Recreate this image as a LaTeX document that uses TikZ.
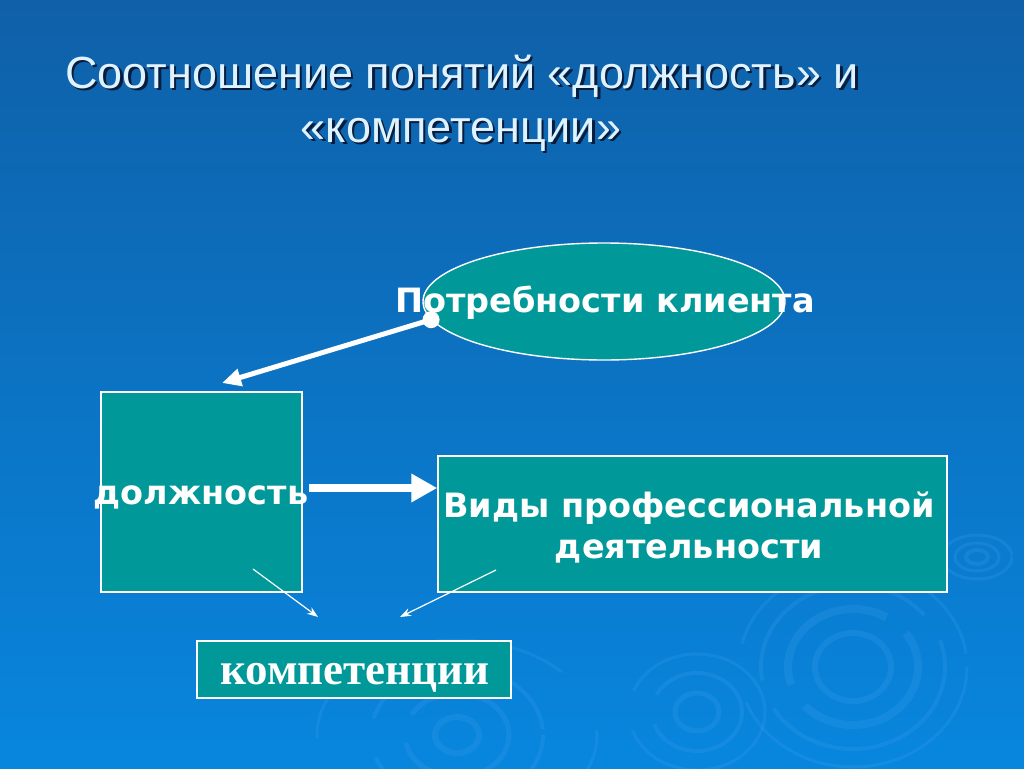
\documentclass[tikz,border=0pt]{standalone}
\usepackage{fontspec}
\setmainfont{Liberation Sans}
\newfontfamily\headfont{Liberation Sans}
\newfontfamily\boxfont{DejaVu Sans}
\newfontfamily\kompfont{Liberation Serif}
\usetikzlibrary{calc,arrows.meta,shapes.geometric}
\definecolor{bgtop}{RGB}{15,96,168}
\definecolor{bgbottom}{RGB}{8,134,222}
\definecolor{boxteal}{RGB}{0,152,152}
\definecolor{headcyan}{RGB}{222,243,255}
\definecolor{headshadow}{RGB}{8,28,60}
\definecolor{ripple}{RGB}{70,165,240}
\tikzset{
	tealbox/.style={draw=white, line width=1.4pt, fill=boxteal, inner sep=0pt},
	boxtext/.style={text=white, font=\boxfont\bfseries\fontsize{33.5}{41}\selectfont, align=center, inner sep=0pt},
	headtext/.style={font=\headfont\fontsize{45}{54}\selectfont, inner sep=0pt, anchor=base},
	fatarrow/.style={draw=white, line width=8pt, -{Triangle[length=26pt,width=27pt]}},
	midarrow/.style={draw=white, line width=5pt, -{Triangle[length=19pt,width=17pt]}},
	thinarrow/.style={draw=white, line width=1.2pt, -{Stealth[length=11pt,width=8pt]}},
	ring/.style={draw=ripple, opacity=0.2}
}

\begin{document}
\begin{tikzpicture}[x=1pt,y=-1pt]
			%%%%% START %%%%%
			
			\shade[top color=bgtop, bottom color=bgbottom] (0, 0) rectangle (1024, 768);
			\useasboundingbox (0, 0) rectangle (1024, 768);
			
			% ripples
			\draw[ring, line width=6pt] (853, 667) ellipse (38 and 34);
			\draw[ring, line width=8pt, dash pattern=on 150pt off 25pt] (853, 667) ellipse (65 and 58);
			\draw[ring, line width=4pt, dash pattern=on 230pt off 30pt] (853, 667) ellipse (92 and 82);
			\draw[ring, line width=3pt, dash pattern=on 300pt off 60pt] (853, 667) ellipse (114 and 100);
			
			\draw[ring, line width=5pt] (697, 712) ellipse (22 and 19);
			\draw[ring, line width=4pt, dash pattern=on 120pt off 30pt] (697, 712) ellipse (45 and 39);
			\draw[ring, line width=3pt, dash pattern=on 180pt off 40pt] (697, 712) ellipse (68 and 58);
			
			\draw[ring, line width=4pt] (977, 557) ellipse (11 and 7);
			\draw[ring, line width=3pt] (977, 557) ellipse (22 and 14);
			\draw[ring, line width=3pt, dash pattern=on 80pt off 20pt] (977, 557) ellipse (35 and 22);
			
			\draw[ring, line width=6pt] (457, 735) ellipse (22 and 18);
			\draw[ring, line width=5pt, dash pattern=on 140pt off 30pt] (457, 735) ellipse (52 and 42);
			\draw[ring, line width=4pt, dash pattern=on 220pt off 40pt] (457, 735) ellipse (86 and 68);
			\draw[ring, line width=3pt, dash pattern=on 300pt off 70pt] (457, 735) ellipse (140 and 95);
			
			% title
			\node[headtext, text=headshadow] (head1shadow) at (464.5, 90.5) {Соотношение понятий «должность» и};
			\node[headtext, text=headcyan] (head1) at (462, 88) {Соотношение понятий «должность» и};
			\node[headtext, text=headshadow] (head2shadow) at (463.5, 144.5) {«компетенции»};
			\node[headtext, text=headcyan] (head2) at (461, 142) {«компетенции»};
			
			% boxes
			\node[tealbox, ellipse, minimum width=362, minimum height=117] (potr) at (604, 301.5) {};
			\node[boxtext, anchor=base] (potrtxt) at (605, 312) {Потребности клиента};
			
			\node[tealbox, minimum width=201, minimum height=200] (dolzh) at (201.5, 492) {};
			\node[boxtext, anchor=base] (dolzhtxt) at (201, 504) {должность};
			
			\node[tealbox, minimum width=509, minimum height=136] (vidy) at (692.5, 524) {};
			\node[boxtext, anchor=base] (vidytxt) at (689, 558) {Виды профессиональной\\деятельности};
			
			\node[tealbox, minimum width=314, minimum height=57] (kompet) at (354, 669.5) {};
			\node[text=white, font=\kompfont\bfseries\fontsize{45}{54}\selectfont, inner sep=0pt, anchor=base] (kompettxt) at (355, 684) {компетенции};
			
			% connectors
			\coordinate (dolzhtop) at (222, 383);
			\draw[midarrow] (potr.186) -- (dolzhtop);
			\fill[white] (potr.186) circle (8.5);
			
			\coordinate (fatstart) at (309, 488);
			\draw[fatarrow] (fatstart) -- (fatstart -| vidy.west);
			
			\coordinate (dolzhsrc) at (253, 569);
			\coordinate (kompL) at (318, 617);
			\coordinate (vidysrc) at (496, 570);
			\coordinate (kompR) at (400, 617);
			\draw[thinarrow] (dolzhsrc) -- (kompL);
			\draw[thinarrow] (vidysrc) -- (kompR);
			
			%%%%% END %%%%%
\end{tikzpicture}
\end{document}
